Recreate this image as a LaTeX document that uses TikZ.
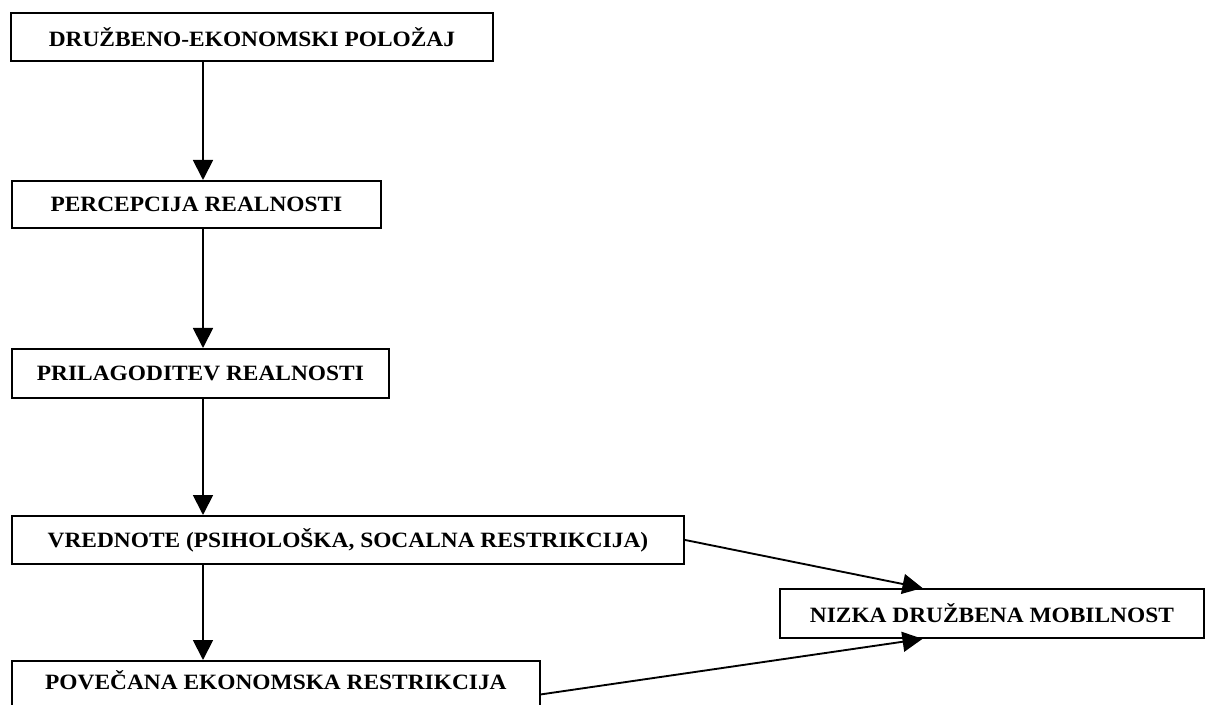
\documentclass[tikz,border=0pt]{standalone}
\usepackage{fontspec}
\setmainfont{Liberation Serif}[FakeStretch=1.07]
\usetikzlibrary{arrows.meta,calc}

\begin{document}
\begin{tikzpicture}[
    x=0.75pt, y=-0.75pt,
    stage/.style={draw, line width=1.4pt, anchor=north west, inner sep=0pt,
                  font=\fontsize{16.4}{19}\selectfont\bfseries, align=center},
    arr/.style={line width=1.4pt, -{Triangle[length=15pt,width=15pt]}}
  ]
  \useasboundingbox (0,0) rectangle (1209,705);
  \clip (0,0) rectangle (1209,705);

  % chain of boxes down the left side
  \node[stage, minimum width=361.5pt, minimum height=36pt]    (pos)  at (10,12)  {DRUŽBENO-EKONOMSKI POLOŽAJ};
  \node[stage, minimum width=276.75pt, minimum height=35.25pt] (perc) at (11,180) {PERCEPCIJA REALNOSTI};
  \node[stage, minimum width=282.75pt, minimum height=36.75pt] (adap) at (11,348) {PRILAGODITEV REALNOSTI};
  \node[stage, minimum width=504pt, minimum height=36pt]       (vals) at (11,515) {VREDNOTE (PSIHOLOŠKA, SOCALNA RESTRIKCIJA)};
  \node[stage, minimum width=396pt, minimum height=36pt, text depth=8pt] (econ) at (11,660) {POVEČANA EKONOMSKA RESTRIKCIJA};

  % outcome box on the right
  \node[stage, minimum width=318pt, minimum height=36.75pt] (mob) at (779,588) {NIZKA DRUŽBENA MOBILNOST};

  % vertical spine of the chain
  \coordinate (spine) at (203,0);
  \draw[arr] (pos.south -| spine)  -- (perc.north -| spine);
  \draw[arr] (perc.south -| spine) -- (adap.north -| spine);
  \draw[arr] (adap.south -| spine) -- (vals.north -| spine);
  \draw[arr] (vals.south -| spine) -- (econ.north -| spine);

  % both restrictions lead to low mobility
  \draw[arr] (vals.east) -- ($(mob.north west)!0.337!(mob.north east)$);
  \draw[arr] ($(econ.north east)!0.69!(econ.south east)$) -- ($(mob.south west)!0.337!(mob.south east)$);
\end{tikzpicture}
\end{document}
